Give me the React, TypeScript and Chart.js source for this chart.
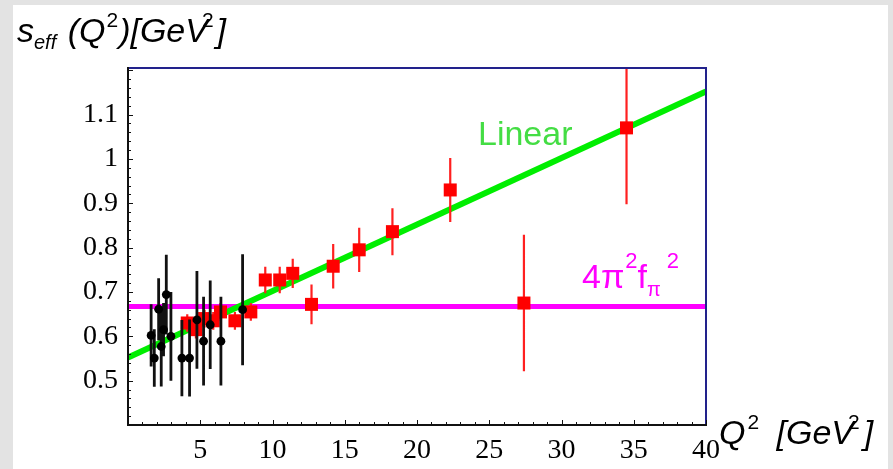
import { useEffect, useRef } from 'react';
import { Chart, registerables } from 'chart.js';

Chart.register(...registerables);

// ---- data ----
const xTicks = [5, 10, 15, 20, 25, 30, 35, 40];
const yTicks = [0.5, 0.6, 0.7, 0.8, 0.9, 1.0, 1.1];

const linearQ2 = [0, 40];
const linearS = [0.552, 1.152];

const constQ2 = [0, 40];
const constS = [0.667, 0.667];

const redQ2 = [4.1, 4.7, 5.3, 5.9, 6.4, 7.4, 8.5, 9.5, 10.5, 11.4, 12.7, 14.2, 16.0, 18.3, 22.3, 27.4, 34.5];
const redS = [0.63, 0.615, 0.64, 0.635, 0.655, 0.635, 0.655, 0.727, 0.727, 0.742, 0.672, 0.758, 0.795, 0.836, 0.93, 0.675, 1.07];
const redErr = [0.02, 0.02, 0.02, 0.02, 0.02, 0.02, 0.02, 0.03, 0.03, 0.033, 0.045, 0.05, 0.05, 0.053, 0.072, 0.154, 0.172];

const blackQ2 = [1.6, 1.82, 2.12, 2.3, 2.46, 2.65, 2.97, 3.73, 4.26, 4.77, 5.23, 5.69, 6.43, 7.93];
const blackS = [0.602, 0.551, 0.661, 0.577, 0.615, 0.694, 0.6, 0.551, 0.551, 0.637, 0.589, 0.626, 0.589, 0.66];
const blackErr = [0.07, 0.065, 0.07, 0.09, 0.06, 0.09, 0.1, 0.086, 0.087, 0.11, 0.1, 0.1, 0.1, 0.125];

const errs: Record<number, { q: number[]; s: number[]; e: number[]; color: string; width: number }> = {
  0: { q: blackQ2, s: blackS, e: blackErr, color: '#111111', width: 2.8 },
  1: { q: redQ2, s: redS, e: redErr, color: '#ff2020', width: 2.2 },
};

type Run = { t: string; f: string; dy?: number; dx?: number };
function drawRuns(ctx: CanvasRenderingContext2D, runs: Run[], x: number, y: number) {
  let cx = x;
  for (const r of runs) {
    ctx.font = r.f;
    cx += r.dx || 0;
    ctx.fillText(r.t, cx, y + (r.dy || 0));
    cx += ctx.measureText(r.t).width;
  }
}

const SANS = 'Liberation Sans, Arial, sans-serif';

const decorPlugin = {
  id: 'decor',
  beforeDraw(chart: any) {
    const ctx = chart.ctx as CanvasRenderingContext2D;
    ctx.save();
    ctx.fillStyle = '#e3e3e3';
    ctx.fillRect(0, 0, chart.width, chart.height);
    ctx.fillStyle = '#ffffff';
    ctx.fillRect(13, 5, 875, chart.height - 5);
    ctx.restore();
  },
  beforeDatasetDraw(chart: any, args: any) {
    const info = errs[args.index];
    if (!info) return;
    const { ctx, chartArea: a } = chart;
    const xs = chart.scales.x;
    const ys = chart.scales.y;
    ctx.save();
    ctx.beginPath();
    ctx.rect(a.left, a.top, a.right - a.left, a.bottom - a.top);
    ctx.clip();
    ctx.strokeStyle = info.color;
    ctx.lineWidth = info.width;
    ctx.beginPath();
    info.q.forEach((q, i) => {
      const px = xs.getPixelForValue(q);
      ctx.moveTo(px, ys.getPixelForValue(info.s[i] + info.e[i]));
      ctx.lineTo(px, ys.getPixelForValue(info.s[i] - info.e[i]));
    });
    ctx.stroke();
    ctx.restore();
  },
  afterDraw(chart: any) {
    const { ctx, chartArea: a } = chart;
    const xs = chart.scales.x;
    const ys = chart.scales.y;
    ctx.save();
    // frame
    ctx.lineWidth = 2;
    ctx.strokeStyle = '#22228c';
    ctx.beginPath();
    ctx.moveTo(a.left, a.top);
    ctx.lineTo(a.right, a.top);
    ctx.lineTo(a.right, a.bottom);
    ctx.stroke();
    ctx.strokeStyle = '#111111';
    ctx.beginPath();
    ctx.moveTo(a.left, a.top - 1);
    ctx.lineTo(a.left, a.bottom);
    ctx.lineTo(a.right + 1, a.bottom);
    ctx.stroke();
    // ticks
    ctx.lineWidth = 1;
    ctx.beginPath();
    for (let i = 0; i <= 40; i++) {
      const px = Math.round(xs.getPixelForValue(i)) + 0.5;
      const len = i % 5 === 0 ? 5 : 3;
      ctx.moveTo(px, a.bottom);
      ctx.lineTo(px, a.bottom - len);
    }
    for (let k = 20; k <= 60; k++) {
      const v = k * 0.02;
      const py = Math.round(ys.getPixelForValue(v)) + 0.5;
      const len = k % 5 === 0 ? 5 : 3;
      ctx.moveTo(a.left, py);
      ctx.lineTo(a.left + len, py);
    }
    ctx.stroke();

    ctx.fillStyle = '#000000';
    ctx.textBaseline = 'alphabetic';
    ctx.textAlign = 'left';
    // y title
    drawRuns(ctx, [
      { t: 's', f: `italic 34px ${SANS}` },
      { t: 'eff', f: `italic 20px ${SANS}`, dy: 7 },
      { t: ' (Q', f: `italic 34px ${SANS}`, dx: 2 },
      { t: '2', f: `21px ${SANS}`, dy: -15, dx: 1 },
      { t: ')[GeV', f: `italic 34px ${SANS}`, dx: 1 },
      { t: '2', f: `21px ${SANS}`, dy: -15, dx: -6 },
      { t: ']', f: `italic 34px ${SANS}`, dx: 3 },
    ], 17, 42);
    // x title
    drawRuns(ctx, [
      { t: 'Q', f: `italic 34px ${SANS}` },
      { t: '2', f: `21px ${SANS}`, dy: -15, dx: 2 },
      { t: ' [GeV', f: `italic 34px ${SANS}`, dx: 8 },
      { t: '2', f: `21px ${SANS}`, dy: -15, dx: -6 },
      { t: ']', f: `italic 34px ${SANS}`, dx: 4 },
    ], 719, 444);
    // annotations
    ctx.fillStyle = '#44dd44';
    ctx.font = `34px ${SANS}`;
    ctx.fillText('Linear', 478, 145);
    ctx.fillStyle = '#ff00ff';
    drawRuns(ctx, [
      { t: '4π', f: `34px ${SANS}` },
      { t: '2', f: `22px ${SANS}`, dy: -20, dx: 1 },
      { t: 'f', f: `34px ${SANS}`, dx: 0 },
      { t: 'π', f: `20px ${SANS}`, dy: 8 },
      { t: '2', f: `22px ${SANS}`, dy: -20, dx: 6 },
    ], 582, 288);
    ctx.restore();
  },
};

export default function App() {
  const ref = useRef<HTMLCanvasElement>(null);
  useEffect(() => {
    const canvas = ref.current!;
    const chart = new Chart(canvas, {
      type: 'scatter',
      data: {
        datasets: [
          {
            label: 'data A',
            data: blackQ2.map((x, i) => ({ x, y: blackS[i] })),
            pointRadius: 4.4,
            pointBackgroundColor: '#000000',
            pointBorderWidth: 0,
            showLine: false,
            order: 0,
          },
          {
            label: 'data B',
            data: redQ2.map((x, i) => ({ x, y: redS[i] })),
            pointStyle: 'rect',
            pointRadius: 9.2,
            pointBackgroundColor: '#ff0000',
            pointBorderWidth: 0,
            showLine: false,
            order: 1,
          },
          {
            label: 'Linear',
            data: linearQ2.map((x, i) => ({ x, y: linearS[i] })),
            showLine: true,
            borderColor: '#00ee00',
            borderWidth: 6,
            pointRadius: 0,
            clip: 0,
            order: 2,
          },
          {
            label: '4π²fπ²',
            data: constQ2.map((x, i) => ({ x, y: constS[i] })),
            showLine: true,
            borderColor: '#ff00ff',
            borderWidth: 5,
            pointRadius: 0,
            clip: 0,
            order: 3,
          },
        ] as any,
      },
      options: {
        responsive: false,
        animation: false,
        events: [],
        layout: { padding: { left: 0, top: 68, right: 187, bottom: 0 } },
        plugins: { legend: { display: false }, tooltip: { enabled: false } },
        scales: {
          x: {
            type: 'linear',
            min: 0,
            max: 40,
            afterFit(s: any) { s.height = 44; },
            afterBuildTicks(s: any) { s.ticks = xTicks.map((v) => ({ value: v })); },
            grid: { display: false, drawTicks: false, tickLength: 0 },
            border: { display: false },
            ticks: {
              color: '#000000',
              font: { family: 'Liberation Serif', size: 28 },
              padding: 9,
              maxRotation: 0,
              autoSkip: false,
              callback: (v: any) => String(v),
            },
          },
          y: {
            type: 'linear',
            min: 0.4,
            max: 1.205,
            afterFit(s: any) { s.width = 128; },
            afterBuildTicks(s: any) { s.ticks = yTicks.map((v) => ({ value: v })); },
            grid: { display: false, drawTicks: false, tickLength: 0 },
            border: { display: false },
            ticks: {
              color: '#000000',
              font: { family: 'Liberation Serif', size: 28 },
              padding: 10,
              autoSkip: false,
              callback: (v: any) => String(Number(Number(v).toFixed(2))),
            },
          },
        },
      } as any,
      plugins: [decorPlugin],
    });
    return () => chart.destroy();
  }, []);
  return (
    <div style={{ position: 'absolute', left: 0, top: 0, width: 893, height: 469 }}>
      <canvas ref={ref} width={893} height={469} style={{ display: 'block' }} />
    </div>
  );
}
